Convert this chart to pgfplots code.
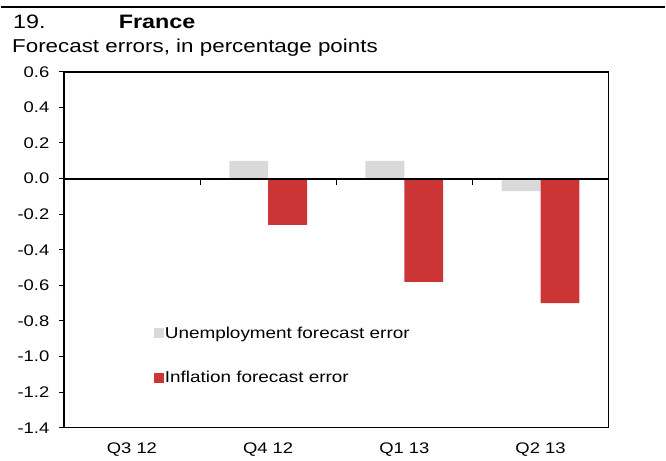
\documentclass[border=0pt]{standalone}
\usepackage{fontspec}
\setmainfont{Liberation Sans}[FakeStretch=1.2]
\usepackage{pgfplots}
\pgfplotsset{compat=1.18}
\definecolor{unempgray}{HTML}{D9D9D9}
\definecolor{inflred}{HTML}{CC3535}

\begin{document}
\begin{tikzpicture}[x=1pt,y=1pt]
% page size and the headings
\path (0,0) rectangle (666,458);
\draw[line width=2pt] (0,450.5) -- (666,450.5);
\node[anchor=base west,font=\fontsize{19.5}{22}\selectfont,inner sep=0] at (12,429) {19.};
\node[anchor=base west,font=\fontsize{19.5}{22}\selectfont\bfseries,inner sep=0] at (118,429) {France};
\node[anchor=base west,font=\fontsize{18.7}{21}\selectfont,inner sep=0] at (11,405) {Forecast errors, in percentage points};
\begin{axis}[
  at={(63pt,29pt)},
  anchor=south west,
  scale only axis,
  width=546.5pt,
  height=357pt,
  ybar=0pt,
  bar width=39pt,
  xmin=-0.5, xmax=3.5,
  ymin=-1.4, ymax=0.6,
  ytick={-1.4,-1.2,-1.0,-0.8,-0.6,-0.4,-0.2,0,0.2,0.4,0.6},
  ytick pos=left,
  xtick={0,1,2,3},
  xticklabels={Q3 12,Q4 12,Q1 13,Q2 13},
  x tick style={draw=none},
  y tick style={black,line width=1pt},
  tick align=outside,
  major tick length=5pt,
  /pgf/number format/assume math mode=true,
  tick label style={font=\fontsize{15.4}{18}\selectfont},
  yticklabel style={xshift=-6pt,/pgf/number format/.cd,fixed,fixed zerofill,precision=1},
  xticklabel style={yshift=-7pt},
  axis line style={line width=1.5pt},
  legend style={
    at={(0.165,0.287)}, anchor=north west,
    draw=none, fill=none,
    font=\fontsize{15.8}{18}\selectfont,
    row sep=30pt,
    inner sep=0pt,
    nodes={inner sep=1pt},
  },
  legend cell align=left,
  legend image code/.code={\fill[#1,draw=none] (0pt,-4.5pt) rectangle (10pt,5pt);},
]
\addplot[fill=unempgray,draw=none,bar shift=-19.5pt] coordinates {(1,0.10) (2,0.10) (3,-0.07)};
\addlegendentry{Unemployment forecast error}
\addplot[fill=inflred,draw=none,bar shift=19.5pt] coordinates {(1,-0.26) (2,-0.58) (3,-0.70)};
\addlegendentry{Inflation forecast error}
\draw[line width=2pt] (axis cs:-0.5,0) -- (axis cs:3.5,0);
\pgfplotsinvokeforeach{0.5,1.5,2.5,3.5}{
  \draw[line width=1pt] (axis cs:#1,0) -- ([yshift=-6pt]axis cs:#1,0);
}
\end{axis}
\end{tikzpicture}
\end{document}
